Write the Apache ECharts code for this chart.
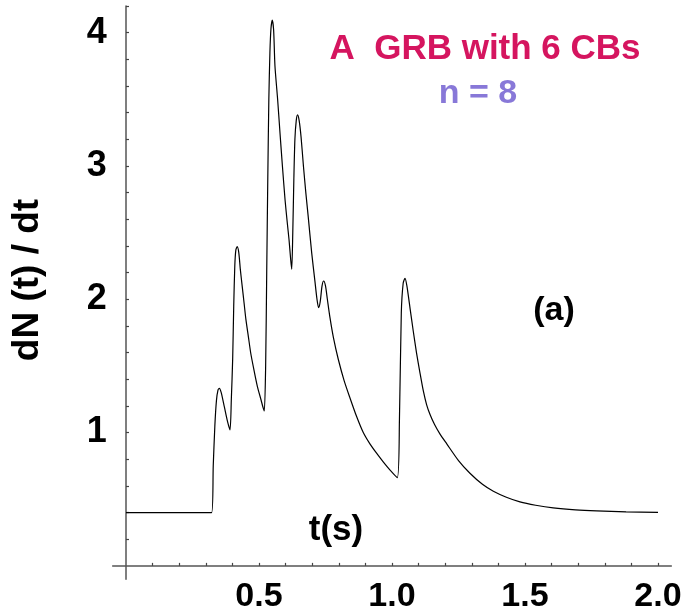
<!DOCTYPE html>
<html>
<head>
<meta charset="utf-8">
<script src="https://cdn.jsdelivr.net/npm/echarts@6/dist/echarts.min.js"></script>
<style>
html,body{margin:0;padding:0;background:#fff;}
#chart{width:700px;height:616px;}
</style>
</head>
<body>
<div id="chart"></div>
<script>
// time (s)
const tValues = [
  0.000, 0.322, 0.328, 0.334, 0.340, 0.346, 0.351, 0.358, 0.370, 0.382, 0.391,
  0.396, 0.401, 0.405, 0.409, 0.413, 0.418, 0.424, 0.430, 0.437, 0.444, 0.451,
  0.460, 0.469, 0.481, 0.494, 0.507, 0.515, 0.520,
  0.525, 0.529, 0.533, 0.537, 0.541, 0.545, 0.550, 0.555, 0.560, 0.570, 0.579,
  0.588, 0.598, 0.606, 0.613, 0.619, 0.623,
  0.627, 0.631, 0.635, 0.640, 0.645, 0.651, 0.658, 0.667, 0.676, 0.685, 0.698,
  0.710, 0.718, 0.724, 0.730, 0.737, 0.743,
  0.750, 0.757, 0.767, 0.780, 0.798, 0.820, 0.842, 0.867, 0.892, 0.917, 0.942,
  0.967, 0.992, 1.020,
  1.028, 1.035, 1.042, 1.049, 1.056, 1.068, 1.080, 1.092, 1.105, 1.118, 1.130,
  1.143, 1.160, 1.180, 1.206, 1.250, 1.293, 1.340, 1.381, 1.430, 1.481, 1.540,
  1.606, 1.690, 1.769, 1.880, 2.000
];
// dN(t)/dt
const rateValues = [
  0.400, 0.400, 0.750, 1.050, 1.240, 1.320, 1.332, 1.300, 1.190, 1.080, 1.020,
  1.250, 1.550, 1.950, 2.250, 2.370, 2.395, 2.350, 2.220, 2.095, 1.970, 1.845,
  1.720, 1.595, 1.470, 1.345, 1.250, 1.190, 1.162,
  1.500, 2.200, 2.900, 3.500, 3.850, 4.030, 4.095, 4.020, 3.750, 3.500, 3.245,
  3.000, 2.745, 2.580, 2.445, 2.300, 2.225,
  2.500, 2.900, 3.200, 3.340, 3.383, 3.340, 3.220, 3.000, 2.800, 2.620, 2.350,
  2.140, 2.000, 1.937, 1.980, 2.100, 2.137,
  2.100, 2.000, 1.860, 1.710, 1.550, 1.390, 1.260, 1.120, 1.000, 0.915, 0.845,
  0.780, 0.720, 0.662,
  1.100, 1.900, 2.120, 2.157, 2.100, 1.930, 1.760, 1.600, 1.450, 1.310, 1.210,
  1.135, 1.060, 0.990, 0.915, 0.790, 0.695, 0.612, 0.560, 0.515, 0.480, 0.455,
  0.435, 0.420, 0.412, 0.405, 0.402
];
// tick values
const xTickValues = [0.1,0.2,0.3,0.4,0.5,0.6,0.7,0.8,0.9,1.0,1.1,1.2,1.3,1.4,1.5,1.6,1.7,1.8,1.9,2.0];
const xLabelValues = [0.5, 1.0, 1.5, 2.0];
const yTickValues = [0.2,0.4,0.6,0.8,1.0,1.2,1.4,1.6,1.8,2.0,2.2,2.4,2.6,2.8,3.0,3.2,3.4,3.6,3.8,4.0,4.2];
const yLabelValues = [1, 2, 3, 4];

const titleText = 'A  GRB with 6 CBs';
const subtitleText = 'n = 8';
const xName = 't(s)';
const yName = 'dN (t) / dt';
const panelTag = '(a)';

const seriesData = tValues.map((t, i) => [t, rateValues[i]]);

const FONT = '"Liberation Sans", Arial, Helvetica, sans-serif';
const chart = echarts.init(document.getElementById('chart'), null, {renderer: 'canvas'});

chart.setOption({
  backgroundColor: '#ffffff',
  animation: false,
  grid: {left: 112.7, right: 28.7, top: 6, bottom: 36.8, containLabel: false, outerBoundsMode: 'none'},
  xAxis: {
    type: 'value', min: -0.05, max: 2.05,
    axisLine: {show: true, onZero: true, lineStyle: {color: '#555', width: 1.5}},
    axisTick: {show: true, inside: true, length: 3, customValues: xTickValues, lineStyle: {color: '#444', width: 1.2}},
    axisLabel: {show: true, customValues: xLabelValues, margin: 0,
      formatter: v => Number(v).toFixed(1),
      fontFamily: FONT, fontWeight: 'bold', fontSize: 34, color: '#000'},
    splitLine: {show: false}
  },
  yAxis: {
    type: 'value', min: -0.1, max: 4.2,
    axisLine: {show: true, onZero: true, lineStyle: {color: '#555', width: 1.5}},
    axisTick: {show: true, inside: true, length: 3, customValues: yTickValues, lineStyle: {color: '#444', width: 1.2}},
    axisLabel: {show: true, customValues: yLabelValues, margin: 6, padding: [8, 0, 0, 0],
      formatter: v => String(Math.round(v)),
      fontFamily: FONT, fontWeight: 'bold', fontSize: 36, color: '#000'},
    splitLine: {show: false}
  },
  series: [{
    type: 'line',
    data: seriesData,
    showSymbol: false,
    smooth: 0.25,
    lineStyle: {color: '#000', width: 1.2},
    z: 5
  }],
  graphic: [
    {type: 'text', x: 485, y: 49, style: {text: titleText, fill: '#d5155f', font: 'bold 35px ' + FONT, textAlign: 'center', textVerticalAlign: 'middle'}},
    {type: 'text', x: 478, y: 94, style: {text: subtitleText, fill: '#8878d8', font: 'bold 34px ' + FONT, textAlign: 'center', textVerticalAlign: 'middle'}},
    {type: 'text', x: 336, y: 530, style: {text: xName, fill: '#000', font: 'bold 35px ' + FONT, textAlign: 'center', textVerticalAlign: 'middle'}},
    {type: 'text', x: 554, y: 311, style: {text: panelTag, fill: '#000', font: 'bold 34px ' + FONT, textAlign: 'center', textVerticalAlign: 'middle'}},
    {type: 'text', x: 28, y: 280, rotation: Math.PI / 2, style: {text: yName, fill: '#000', font: 'bold 37px ' + FONT, textAlign: 'center', textVerticalAlign: 'middle'}}
  ]
});
</script>
</body>
</html>
